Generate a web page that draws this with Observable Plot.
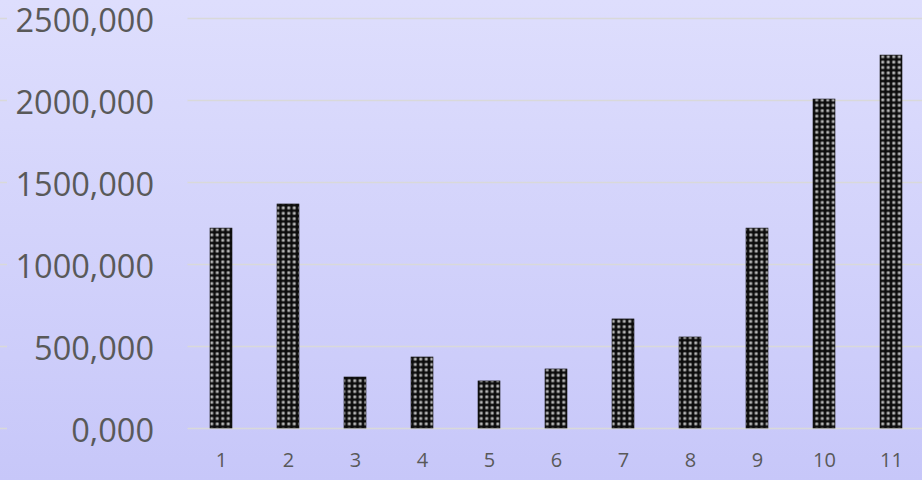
<!DOCTYPE html>
<html>
<head>
<meta charset="utf-8">
<script src="https://cdn.jsdelivr.net/npm/d3@7"></script>
<script src="https://cdn.jsdelivr.net/npm/@observablehq/plot@0.6"></script>
<style>
  html, body { margin: 0; padding: 0; }
  body {
    width: 922px; height: 480px; overflow: hidden;
    background: linear-gradient(#dedefd, #c7c7f9);
  }
  #chart svg { display: block; }
</style>
</head>
<body>
<div id="chart"></div>
<script>
// Categories along the x axis
const categories = ["1", "2", "3", "4", "5", "6", "7", "8", "9", "10", "11"];
// Bar heights
const values = [1219, 1366, 311, 433, 287, 360, 665, 555, 1219, 2006, 2274];
// Y axis tick values
const yTicks = [0, 500, 1000, 1500, 2000, 2500];

const data = categories.map((c, i) => ({ cat: c, value: values[i] }));

// "2500,000" style: three decimals, comma as decimal separator
const fmt = d => d.toFixed(3).replace(".", ",");

const W = 922, H = 480;
const left = 187.5;

const chart = Plot.plot({
  width: W,
  height: H,
  marginTop: 18,
  marginBottom: 52,
  marginLeft: left,
  marginRight: 0,
  style: {
    background: "transparent",
    fontFamily: "'Open Sans', sans-serif",
    color: "#595959",
    overflow: "visible"
  },
  x: { domain: categories, range: [left, 924.5], paddingInner: 0.67, paddingOuter: 0.335, label: null },
  y: { domain: [0, 2500], label: null },
  marks: [
    // horizontal gridlines
    Plot.ruleY(yTicks, { stroke: "#d9d9d9", strokeWidth: 1.5 }),
    // short gridline stubs at the far left edge
    Plot.ruleY(yTicks, { stroke: "#d9d9d9", strokeWidth: 1.5, dx: -left, insetRight: W - left - 7 }),
    Plot.barY(data, { x: "cat", y: "value", fill: "url(#dots)", stroke: "#151515", strokeWidth: 0.6 }),
    Plot.axisY({
      ticks: yTicks, tickFormat: fmt, tickSize: 0, tickPadding: 34, dy: 3,
      fontSize: 32.5, fill: "#595959", label: null
    }),
    Plot.axisX({
      tickSize: 0, tickPadding: 24, fontSize: 20, fill: "#595959", label: null
    })
  ]
});

// Dotted fill pattern for the bars
const defs = d3.select(chart).insert("defs", ":first-child");
const glow = defs.append("radialGradient").attr("id", "dotGlow");
glow.append("stop").attr("offset", "0%").attr("stop-color", "#f2f2f2");
glow.append("stop").attr("offset", "35%").attr("stop-color", "#a8a8a8");
glow.append("stop").attr("offset", "100%").attr("stop-color", "#1a1a1a");
const pat = defs.append("pattern")
  .attr("id", "dots")
  .attr("patternUnits", "userSpaceOnUse")
  .attr("width", 5.5)
  .attr("height", 5.4);
pat.append("rect").attr("width", 5.5).attr("height", 5.4).attr("fill", "#0b0b0b");
pat.append("circle").attr("cx", 2.75).attr("cy", 2.7).attr("r", 2.3).attr("fill", "url(#dotGlow)");

document.getElementById("chart").appendChild(chart);
</script>
</body>
</html>
